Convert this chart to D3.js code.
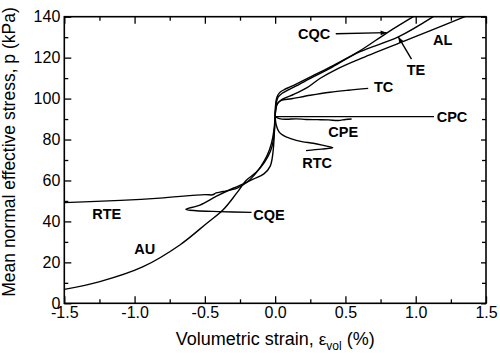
<!DOCTYPE html>
<html><head><meta charset="utf-8">
<script src="https://cdn.jsdelivr.net/npm/d3@7"></script>
<style>
html,body{margin:0;padding:0;background:#fff;}
svg{display:block;font-family:Arial,"Liberation Sans",Helvetica,sans-serif;}
</style></head>
<body><svg id="c" width="500" height="357"></svg>
<script>
// ---- data: [volumetric strain (%), mean normal effective stress p (kPa)] ----
const xTicks = [-1.5, -1.0, -0.5, 0.0, 0.5, 1.0, 1.5];
const xTickLabels = ["-1.5", "-1.0", "-0.5", "0.0", "0.5", "1.0", "1.5"];
const xMinor = [-1.25, -0.75, -0.25, 0.25, 0.75, 1.25];
const yTicks = [0, 20, 40, 60, 80, 100, 120, 140];
const yTickLabels = ["0", "20", "40", "60", "80", "100", "120", "140"];
const yMinor = [10, 30, 50, 70, 90, 110, 130];

const curveCQC = [[0,91.2],[0.001,94],[0.004,97.5],[0.012,100.5],[0.03,102.8],[0.065,104.4],[0.11,105.8],[0.153,107.2],[0.27,111.2],[0.39,115.4],[0.6,123.2],[0.793,132.0],[0.983,140]];
const curveTE  = [[0,91.2],[0.002,94.5],[0.008,98],[0.022,100.8],[0.05,102.6],[0.09,104.1],[0.15,106.2],[0.27,110.6],[0.39,114.8],[0.6,122.8],[0.876,130.1],[1.125,140]];
const curveAL  = [[0,91.2],[0.004,94.5],[0.015,97.4],[0.04,99.2],[0.08,100.6],[0.13,102.0],[0.224,105.2],[0.318,109.8],[0.45,114.8],[0.6,119.3],[0.9,127.6],[1.1,133.1],[1.35,140]];
const curveTC  = [[0,91.2],[0.003,94],[0.012,97],[0.04,99],[0.117,99.9],[0.25,101.6],[0.39,103.1],[0.52,104.1],[0.662,105.0]];
const curveCPC = [[0,91.2],[0.3,91.2],[0.7,91.2],[1.13,91.2]];
const curveCPE = [[0,91.2],[0.03,90.2],[0.08,89.9],[0.15,90.1],[0.22,89.8],[0.3,89.7],[0.38,89.6],[0.45,89.3],[0.5,89.8],[0.544,90.0]];
const curveRTC = [[0,91.2],[0.008,87],[0.03,83.5],[0.07,81.5],[0.105,80.6],[0.19,79.0],[0.271,78.2],[0.35,77.0],[0.41,76.0],[0.33,75.3],[0.22,74.6]];
const curveRTE = [[0,91.2],[-0.008,85],[-0.025,78.5],[-0.055,72.5],[-0.1,67],[-0.15,62.5],[-0.203,59.0],[-0.27,56.3],[-0.37,54.6],[-0.42,53.9],[-0.445,53.0],[-0.5,53.1],[-0.82,51.4],[-1.1,50.3],[-1.5,49.2]];
const curveCQE = [[0,91.2],[-0.006,83],[-0.015,74],[-0.035,67],[-0.08,63.2],[-0.156,60.6],[-0.23,58.2],[-0.299,56.2],[-0.417,52.3],[-0.535,48.0],[-0.635,45.9],[-0.56,45.2],[-0.4,44.8],[-0.168,44.4]];
const curveAU  = [[0,91.2],[-0.004,86],[-0.012,80],[-0.035,74],[-0.075,69],[-0.135,64],[-0.203,60.2],[-0.274,53.8],[-0.37,45.7],[-0.488,39.0],[-0.678,28.5],[-0.939,17.9],[-1.247,10.6],[-1.5,6.8]];

const labelNames = ["CQC","AL","TE","TC","CPC","CPE","RTC","RTE","CQE","AU"];
const xTitle = "Volumetric strain, ";
const yTitle = "Mean normal effective stress, p (kPa)";

// ---- annotation anchors (data units) ----
const labelAt = {
  CQC:[0.163,131.6], AL:[1.123,128.6], TE:[0.936,114.0], TC:[0.703,105.5],
  CPC:[1.149,91.2], CPE:[0.378,83.5], RTC:[0.193,68.4], RTE:[-1.301,43.6],
  CQE:[-0.155,43.1], AU:[-1.002,26.5]
};
const arrows = [ {from:[0.431,131.7], to:[0.793,132.2]}, {from:[0.970,119.3], to:[0.876,130.1]} ];

const svg = d3.select("#c");
const L=64.3, R=486, T=16.7, B=303.3;
const x = d3.scaleLinear().domain([-1.5,1.5]).range([L,R]);
const y = d3.scaleLinear().domain([0,140]).range([B,T]);

const fmtX = d => xTickLabels[xTicks.indexOf(d)];
const fmtY = d => yTickLabels[yTicks.indexOf(d)];
function styleAxis(g){ g.select(".domain").remove(); g.selectAll("line").attr("stroke","#000").attr("stroke-width",1.3); g.selectAll("text").attr("fill","#000").style("font-size","16px").style("font-family","Arial, 'Liberation Sans', sans-serif"); }

svg.append("g").attr("transform",`translate(0,${B})`).call(d3.axisBottom(x).tickValues(xTicks).tickFormat(fmtX).tickSize(-7).tickPadding(3.5)).call(styleAxis);
svg.append("g").attr("transform",`translate(0,${B})`).call(d3.axisBottom(x).tickValues(xMinor).tickFormat("").tickSize(-4)).call(styleAxis);
svg.append("g").attr("transform",`translate(0,${T})`).call(d3.axisTop(x).tickValues(xTicks).tickFormat("").tickSize(-7)).call(styleAxis);
svg.append("g").attr("transform",`translate(0,${T})`).call(d3.axisTop(x).tickValues(xMinor).tickFormat("").tickSize(-4)).call(styleAxis);
svg.append("g").attr("transform",`translate(${L},0)`).call(d3.axisLeft(y).tickValues(yTicks).tickFormat(fmtY).tickSize(-7).tickPadding(4)).call(styleAxis);
svg.append("g").attr("transform",`translate(${L},0)`).call(d3.axisLeft(y).tickValues(yMinor).tickFormat("").tickSize(-4)).call(styleAxis);
svg.append("g").attr("transform",`translate(${R},0)`).call(d3.axisRight(y).tickValues(yTicks).tickFormat("").tickSize(-5)).call(styleAxis);
svg.append("g").attr("transform",`translate(${R},0)`).call(d3.axisRight(y).tickValues(yMinor).tickFormat("").tickSize(-4)).call(styleAxis);

svg.append("rect").attr("x",L).attr("y",T).attr("width",R-L).attr("height",B-T).attr("fill","none").attr("stroke","#000").attr("stroke-width",1.6);

const line = d3.line().x(d=>x(d[0])).y(d=>y(d[1])).curve(d3.curveCatmullRom.alpha(0.5));
const curves = [curveCQC,curveTE,curveAL,curveTC,curveCPC,curveCPE,curveRTC,curveRTE,curveCQE,curveAU];
svg.append("g").selectAll("path").data(curves).join("path")
  .attr("d",line).attr("fill","none").attr("stroke","#000").attr("stroke-width",1.4).attr("stroke-linejoin","round");

svg.append("defs").append("marker").attr("id","ah").attr("viewBox","0 0 10 10").attr("refX",10).attr("refY",5)
  .attr("markerWidth",7).attr("markerHeight",6).attr("markerUnits","userSpaceOnUse").attr("orient","auto")
  .append("path").attr("d","M0,1 L10,5 L0,9 Z").attr("fill","#000");
svg.append("g").selectAll("line").data(arrows).join("line")
  .attr("x1",d=>x(d.from[0])).attr("y1",d=>y(d.from[1])).attr("x2",d=>x(d.to[0])).attr("y2",d=>y(d.to[1]))
  .attr("stroke","#000").attr("stroke-width",1.4).attr("marker-end","url(#ah)");

svg.append("g").selectAll("text").data(labelNames).join("text")
  .attr("x",d=>x(labelAt[d][0])).attr("y",d=>y(labelAt[d][1]))
  .attr("dominant-baseline","central").attr("font-weight","bold").style("font-size","14.5px").text(d=>d);

const xt = svg.append("text").attr("x",(L+R)/2).attr("y",345).attr("text-anchor","middle").style("font-size","18px");
xt.append("tspan").text(xTitle);
xt.append("tspan").text("ε").style("font-size","17px");
xt.append("tspan").text("vol").style("font-size","12px").attr("dy",5);
xt.append("tspan").text(" (%)").attr("dy",-5);

svg.append("text").attr("transform","translate(14.5,152) rotate(-90)").attr("text-anchor","middle").style("font-size","17.5px").text(yTitle);
</script></body></html>
